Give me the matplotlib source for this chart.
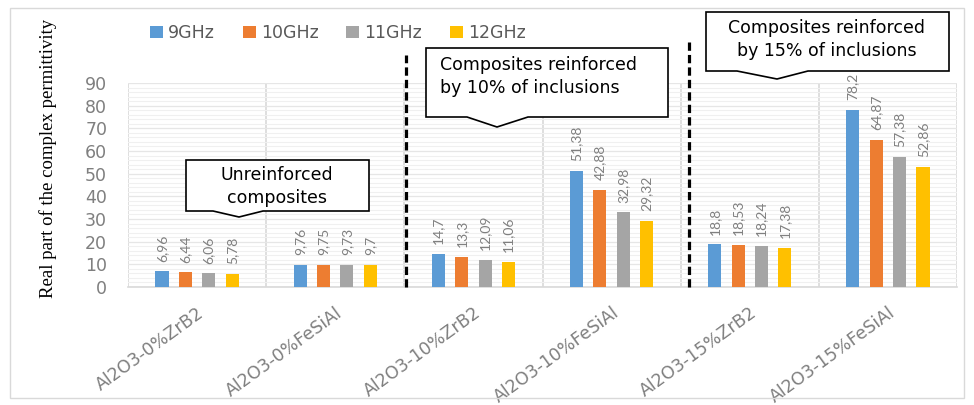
import numpy as np
import matplotlib
matplotlib.use("Agg")
from matplotlib import pyplot as plt
from matplotlib.patches import Polygon, Rectangle

# Real part of the permittivity for each composite and frequency.
samples = ['Al2O3-0%ZrB2', 'Al2O3-0%FeSiAl', 'Al2O3-10%ZrB2',
           'Al2O3-10%FeSiAl', 'Al2O3-15%ZrB2', 'Al2O3-15%FeSiAl']
freqs = ['9GHz', '10GHz', '11GHz', '12GHz']
eps_9 = [6.96, 9.76, 14.7, 51.38, 18.8, 78.2]
eps_10 = [6.44, 9.75, 13.3, 42.88, 18.53, 64.87]
eps_11 = [6.06, 9.73, 12.09, 32.98, 18.24, 57.38]
eps_12 = [5.78, 9.7, 11.06, 29.32, 17.38, 52.86]
series = [eps_9, eps_10, eps_11, eps_12]
colors = ['#5B9BD5', '#ED7D31', '#A5A5A5', '#FFC000']

W, H = 974, 405
gray = '#7f7f7f'


def fx(x, y):
    # pixel position (from top left) -> figure fraction
    return x / W, 1 - y / H


fig = plt.figure(figsize=(W / 100, H / 100), dpi=100)
ax = fig.add_axes([128 / W, 1 - 287 / H, (957 - 128) / W, (287 - 83) / H])

x = np.arange(len(samples))
step = 0.169
width = 0.095
bars = []
for i, (vals, c, name) in enumerate(zip(series, colors, freqs)):
    pos = x + (i - 1.5) * step
    b = ax.bar(pos, vals, width, color=c, label=name, zorder=3)
    bars.append(b)
    for px_, v in zip(pos, vals):
        ax.annotate(str(v).replace('.', ','), (px_, v), xytext=(0, 7),
                    textcoords='offset points', rotation=90, ha='center',
                    va='bottom', fontsize=10, color=gray, family='Lato')

ax.set_xlim(-0.5, 5.5)
ax.set_ylim(0, 90)
ax.set_yticks(np.arange(0, 91, 10))
ax.set_yticks(np.arange(0, 91, 2), minor=True)
ax.set_xticks(x)
ax.set_xticks(np.arange(-0.5, 6, 1), minor=True)
ax.set_xticklabels(samples, rotation=36, ha='right', va='top',
                   rotation_mode='anchor', fontsize=12.5, color=gray)
ax.tick_params(axis='x', which='major', length=0, pad=12)
ax.tick_params(axis='y', which='major', length=0, pad=15, labelsize=12.5,
               labelcolor=gray)
ax.tick_params(which='minor', length=0)
ax.grid(which='minor', axis='y', color='#f0f0f0', lw=0.8, zorder=0)
ax.grid(which='major', axis='y', color='#e6e6e6', lw=0.9, zorder=0)
ax.grid(which='minor', axis='x', color='#d9d9d9', lw=1.2, zorder=1)
for s in ['left', 'right', 'top']:
    ax.spines[s].set_visible(False)
ax.spines['bottom'].set_color('#d9d9d9')
ax.spines['bottom'].set_linewidth(1.2)

# dashed separators between inclusion levels
ax.plot([1.51, 1.51], [0, 102.4], color='black', lw=2.3, dashes=(2.6, 1.3),
        clip_on=False, zorder=4)
ax.plot([3.56, 3.56], [0, 108.0], color='black', lw=2.3, dashes=(2.6, 1.3),
        clip_on=False, zorder=4)

fig.text(*fx(48, 158), 'Real part of the complex permittivity', rotation=90,
         ha='center', va='center', fontsize=13.5, family='Liberation Serif')

fig.legend(handles=bars, labels=freqs, loc='center left',
           bbox_to_anchor=fx(134, 33), ncol=4, frameon=False, fontsize=12.5,
           handlelength=0.75, handleheight=0.75, handletextpad=0.3,
           columnspacing=1.6, labelcolor='#595959')


def callout(left, top, right, bottom, base_l, tip, base_r):
    pts = [(left, top), (right, top), (right, bottom), (base_r, bottom),
           tip, (base_l, bottom), (left, bottom)]
    fig.add_artist(Polygon([fx(*p) for p in pts], closed=True,
                           transform=fig.transFigure, fc='white',
                           ec='black', lw=1.2, zorder=5))


callout(186, 160, 369, 211, 213, (239, 217), 263)
fig.text(*fx(277, 175), 'Unreinforced', ha='center', va='center',
         fontsize=12.5, zorder=6)
fig.text(*fx(277, 198), 'composites', ha='center', va='center',
         fontsize=12.5, zorder=6)

callout(426, 48, 668, 117, 467, (497, 127), 528)
fig.text(*fx(440, 65), 'Composites reinforced', ha='left', va='center',
         fontsize=12.5, zorder=6)
fig.text(*fx(440, 88), 'by 10% of inclusions', ha='left', va='center',
         fontsize=12.5, zorder=6)

callout(706, 12, 949, 71, 737, (777, 79), 808)
fig.text(*fx(827, 28), 'Composites reinforced', ha='center', va='center',
         fontsize=12.5, zorder=6)
fig.text(*fx(827, 51), 'by 15% of inclusions', ha='center', va='center',
         fontsize=12.5, zorder=6)

# outer chart frame
fig.add_artist(Rectangle(fx(10, 398), 954 / W, 390 / H, transform=fig.transFigure,
                         fill=False, ec='#d9d9d9', lw=1.0))

fig.savefig('out.png', dpi=100)
